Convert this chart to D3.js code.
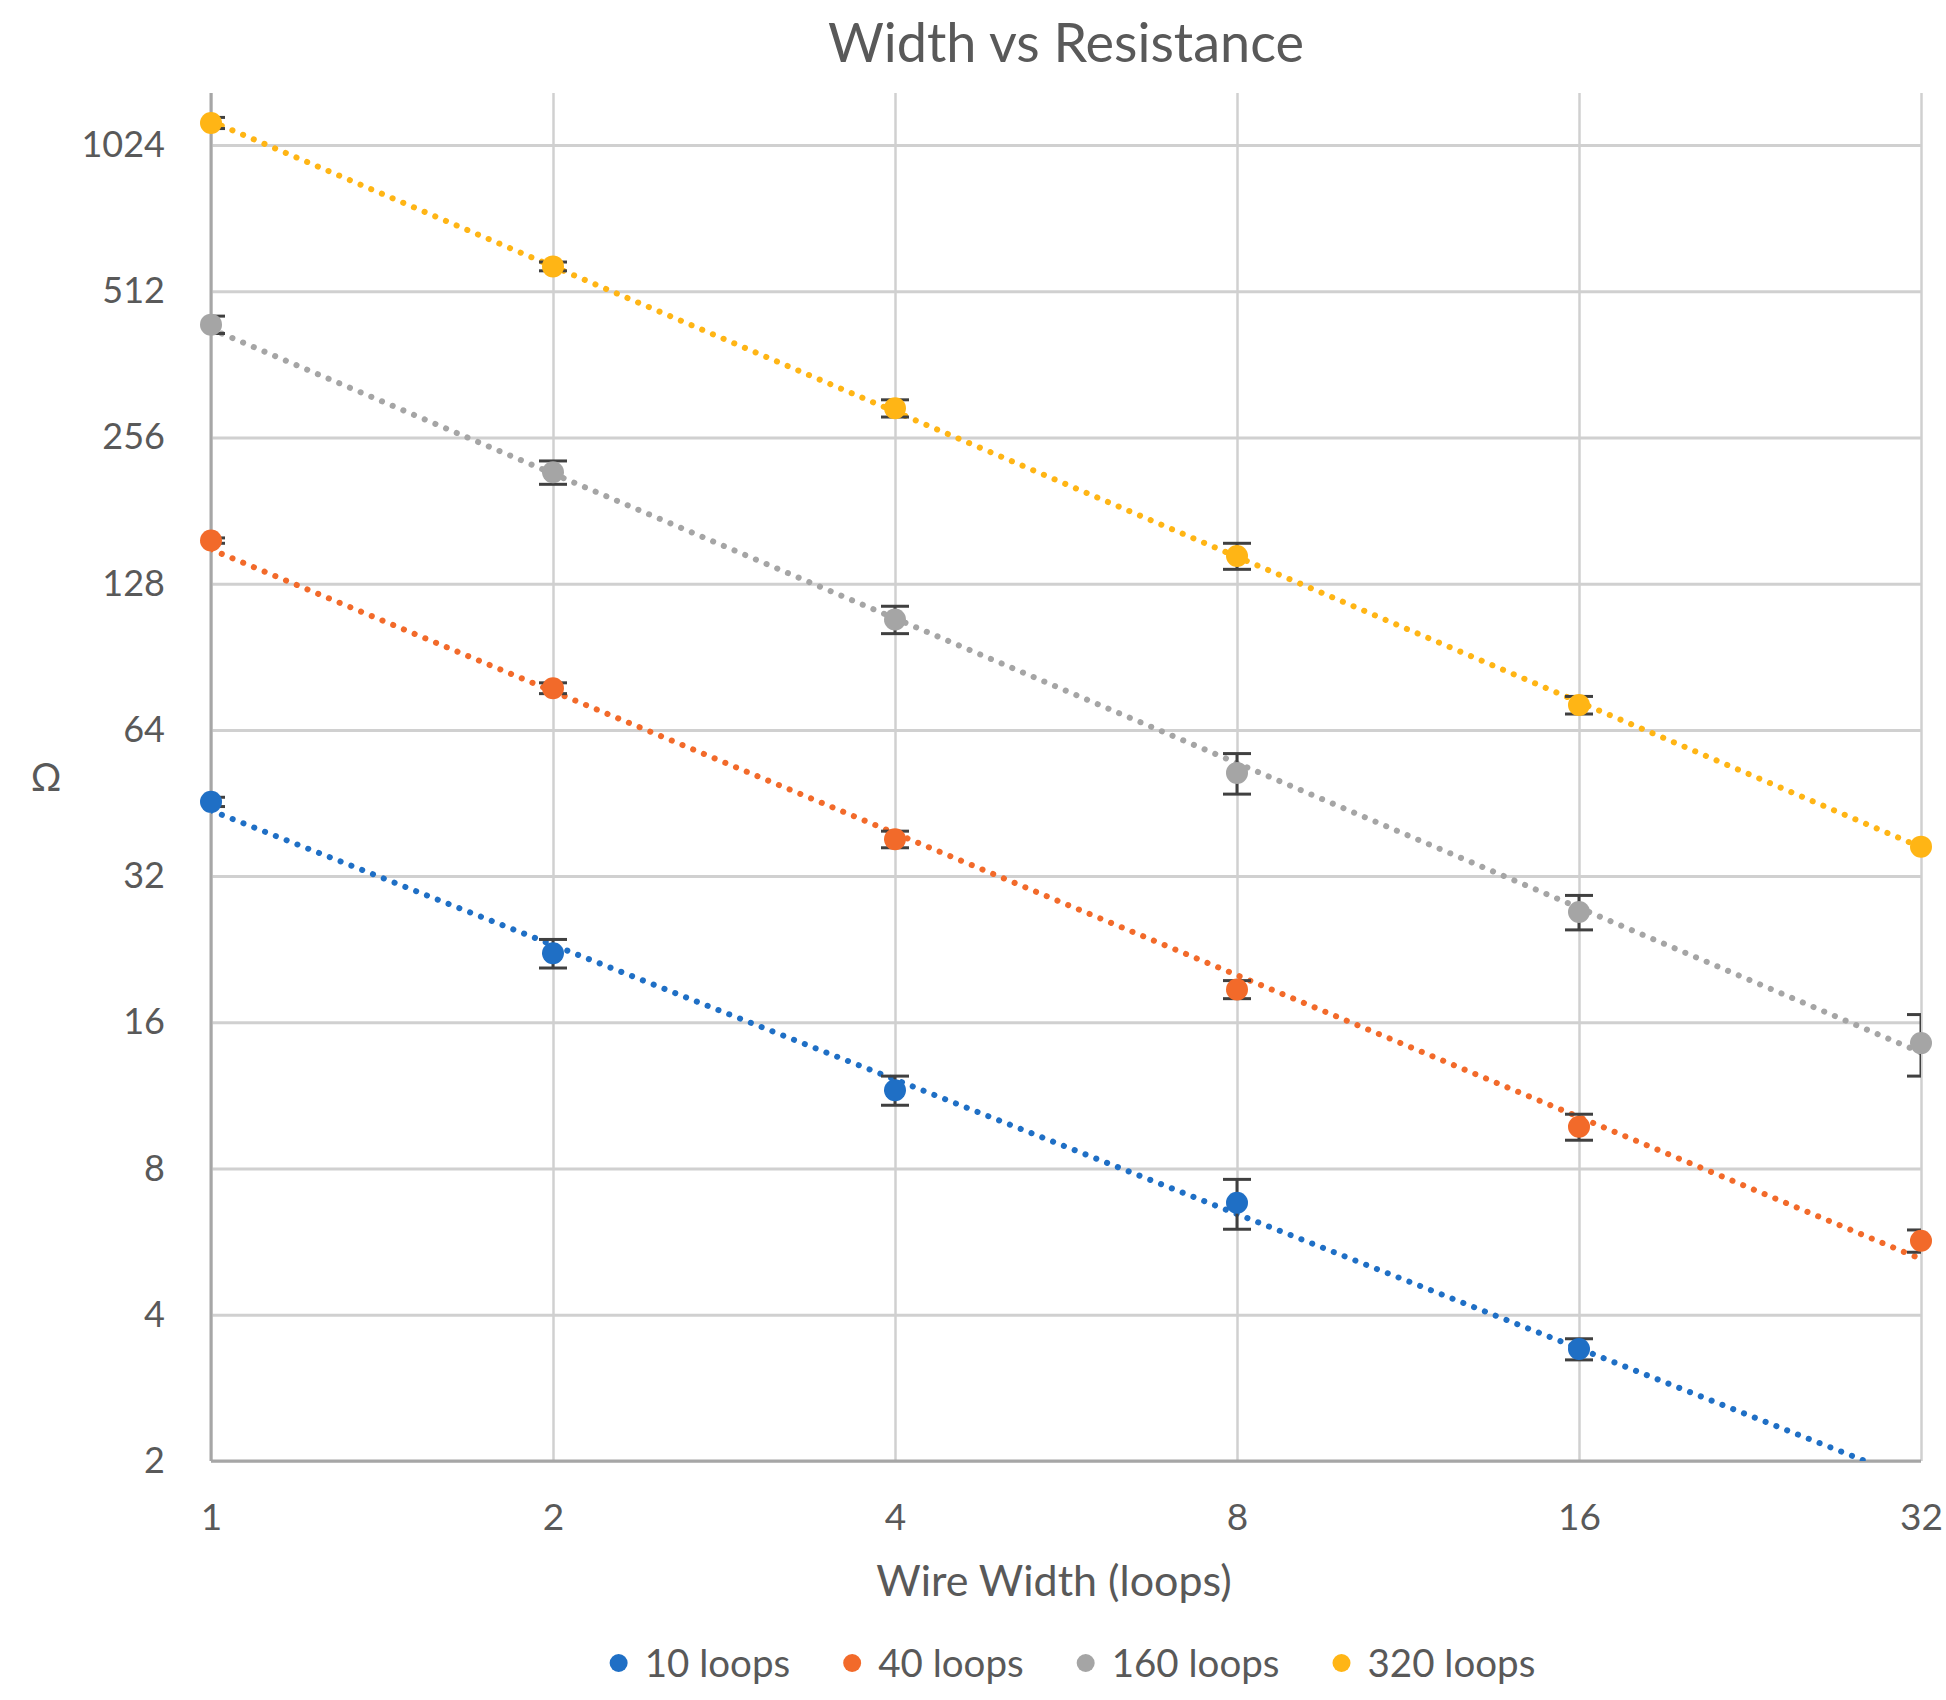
<!DOCTYPE html>
<html>
<head>
<meta charset="utf-8">
<script src="https://cdn.jsdelivr.net/npm/d3@7"></script>
<style>
  body { margin: 0; background: #fff; }
  svg { display: block; font-family: Lato, "Open Sans", sans-serif; }
</style>
</head>
<body>
<svg width="1946" height="1700"></svg>
<script>
// chart data
var widths = [1, 2, 4, 8, 16, 32];
var xTicks = [1, 2, 4, 8, 16, 32];
var yTicks = [2, 4, 8, 16, 32, 64, 128, 256, 512, 1024];
var seriesNames = ["10 loops", "40 loops", "160 loops", "320 loops"];

var loops10 = [45.5, 22.2, 11.6, 6.8, 3.4, 1.8];
var loops40 = [157, 78, 38.1, 18.7, 9.75, 5.68];
var loops160 = [437, 217, 108, 52.2, 27.0, 14.5];
var loops320 = [1137, 576, 294, 146, 72, 36.8];

var err10 = [1, 1.5, 0.8, 0.8, 0.17, 0];
var err40 = [2, 2, 1.5, 0.8, 0.6, 0.3];
var err160 = [18, 12, 7, 5, 2.2, 2.1];
var err320 = [30, 12, 12, 9, 3, 0];

var colors = ["#1f6fc5", "#f26a2a", "#a5a5a5", "#ffb515"];

var svg = d3.select("svg"),
  plotLeft = 211, plotRight = 1921, plotTop = 93, plotBottom = 1461,
  textColor = "#595959";

var x = d3.scaleLog().base(2).domain([1, 32]).range([plotLeft, plotRight]);
var y = d3.scaleLog().base(2).domain([2, 1024]).range([plotBottom, 145]);

var series = seriesNames.map(function(name, i) {
  var vals = [loops10, loops40, loops160, loops320][i];
  var errs = [err10, err40, err160, err320][i];
  return {
    name: name,
    color: colors[i],
    values: widths.map(function(w, j) { return {w: w, v: vals[j], e: errs[j]}; })
  };
});

svg.append("defs").append("clipPath").attr("id", "plotclip")
  .append("rect").attr("x", plotLeft).attr("y", plotTop)
  .attr("width", plotRight - plotLeft).attr("height", plotBottom - plotTop);

// title
svg.append("text")
  .attr("x", (plotLeft + plotRight) / 2).attr("y", 62)
  .attr("text-anchor", "middle")
  .style("font-size", "54px").style("fill", textColor)
  .text("Width vs Resistance");

// gridlines + tick labels
var yAxis = svg.append("g")
  .attr("transform", "translate(" + plotLeft + ",0)")
  .call(d3.axisLeft(y).tickValues(yTicks).tickFormat(d3.format("d"))
    .tickSize(-(plotRight - plotLeft)).tickPadding(46));
yAxis.select(".domain").remove();
yAxis.selectAll("line").style("stroke", "#d0d0d0").style("stroke-width", 3);
yAxis.selectAll("text").style("font-size", "36px").style("fill", textColor)
  .style("font-family", "Lato, sans-serif");

var xAxis = svg.append("g")
  .attr("transform", "translate(0," + plotBottom + ")")
  .call(d3.axisBottom(x).tickValues(xTicks).tickFormat(d3.format("d"))
    .tickSize(-(plotBottom - plotTop)).tickPadding(43));
xAxis.select(".domain").remove();
xAxis.selectAll("line").style("stroke", "#d0d0d0").style("stroke-width", 2.5);
xAxis.selectAll("text").style("font-size", "37px").style("fill", textColor)
  .style("font-family", "Lato, sans-serif");

// axis lines
svg.append("line").attr("x1", plotLeft).attr("x2", plotLeft).attr("y1", plotTop).attr("y2", plotBottom)
  .style("stroke", "#a6a6a6").style("stroke-width", 3);
svg.append("line").attr("x1", plotLeft).attr("x2", plotRight).attr("y1", plotBottom).attr("y2", plotBottom)
  .style("stroke", "#a6a6a6").style("stroke-width", 3);

// axis titles
svg.append("text")
  .attr("x", 1054).attr("y", 1596)
  .attr("text-anchor", "middle")
  .style("font-size", "43px").style("fill", textColor)
  .text("Wire Width (loops)");

svg.append("text")
  .attr("x", 46).attr("y", 778)
  .attr("text-anchor", "middle").attr("dy", "0.35em")
  .style("font-size", "38px").style("fill", textColor)
  .text("Ω");

// power trendlines (least squares in log-log space)
function powerFit(values) {
  var pts = values.map(function(d) { return [Math.log2(d.w), Math.log2(d.v)]; });
  var mx = d3.mean(pts, function(p) { return p[0]; }),
      my = d3.mean(pts, function(p) { return p[1]; });
  var sxy = d3.sum(pts, function(p) { return (p[0] - mx) * (p[1] - my); }),
      sxx = d3.sum(pts, function(p) { return (p[0] - mx) * (p[0] - mx); });
  var b = sxy / sxx, a = my - b * mx;
  return function(w) { return Math.pow(2, a + b * Math.log2(w)); };
}

var line = d3.line()
  .x(function(d) { return x(d.w); })
  .y(function(d) { return y(d.v); });

var plot = svg.append("g").attr("clip-path", "url(#plotclip)");

series.forEach(function(s) {
  var f = powerFit(s.values);
  var ends = [1, 32].map(function(w) { return {w: w, v: f(w)}; });
  plot.append("path")
    .attr("d", line(ends))
    .style("fill", "none")
    .style("stroke", s.color)
    .style("stroke-width", 6)
    .style("stroke-linecap", "round")
    .style("stroke-dasharray", "0.1 11.5");
});

// error bars
series.forEach(function(s) {
  var eb = plot.selectAll(null)
    .data(s.values.filter(function(d) { return d.e > 0 && d.v >= 2; }))
    .enter().append("g");
  eb.append("line")
    .attr("x1", function(d) { return x(d.w); })
    .attr("x2", function(d) { return x(d.w); })
    .attr("y1", function(d) { return y(d.v + d.e); })
    .attr("y2", function(d) { return y(d.v - d.e); });
  eb.append("line")
    .attr("x1", function(d) { return x(d.w) - 14; })
    .attr("x2", function(d) { return x(d.w) + 14; })
    .attr("y1", function(d) { return y(d.v + d.e); })
    .attr("y2", function(d) { return y(d.v + d.e); });
  eb.append("line")
    .attr("x1", function(d) { return x(d.w) - 14; })
    .attr("x2", function(d) { return x(d.w) + 14; })
    .attr("y1", function(d) { return y(d.v - d.e); })
    .attr("y2", function(d) { return y(d.v - d.e); });
  eb.selectAll("line").style("stroke", "#404040").style("stroke-width", 3);
});

// points (hide those below the axis minimum)
series.forEach(function(s) {
  svg.selectAll(null)
    .data(s.values.filter(function(d) { return d.v >= 2; }))
    .enter().append("circle")
    .attr("cx", function(d) { return x(d.w); })
    .attr("cy", function(d) { return y(d.v); })
    .attr("r", 11)
    .style("fill", s.color);
});

// legend
var legend = svg.append("g");
var lx = 0, lastEnd = 0;
series.forEach(function(s) {
  var item = legend.append("g").attr("transform", "translate(" + lx + ",0)");
  item.append("circle").attr("cx", 0).attr("cy", -14).attr("r", 9).style("fill", s.color);
  var t = item.append("text").attr("x", 26).attr("y", 0)
    .style("font-size", "38.5px").style("fill", textColor).text(s.name);
  lastEnd = lx + 26 + t.node().getComputedTextLength();
  lx = lastEnd + 62;
});
legend.attr("transform", "translate(" + (1077 - lastEnd / 2) + ",1677)");
</script>
</body>
</html>
